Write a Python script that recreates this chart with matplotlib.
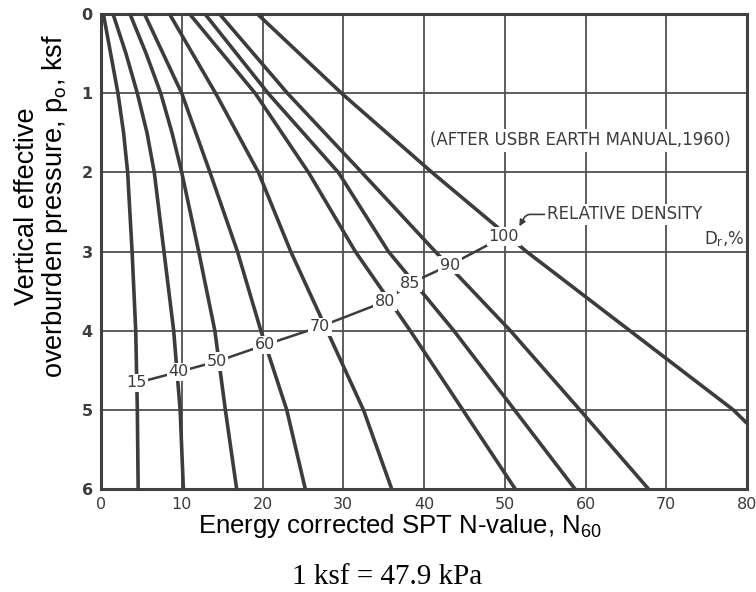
import numpy as np
import matplotlib
matplotlib.use("Agg")
import matplotlib.pyplot as plt

plt.rcParams['mathtext.fontset'] = 'custom'
plt.rcParams['mathtext.rm'] = 'Liberation Sans'
plt.rcParams['mathtext.it'] = 'Liberation Sans:italic'

INK = '#3c3c3c'

# vertical effective pressure (ksf) where the curves were read
pressure = [0, 1, 2, 3, 4, 5, 6]
pressure_fine = [0, 0.5, 1, 1.5, 2, 3, 4, 5, 6]
pressure_100 = [0, 1, 2, 3, 4, 5, 5.17]

# N60
n_15 = [0.3, 1.2, 2.1, 2.8, 3.3, 3.85, 4.3, 4.5, 4.6]
n_40 = [1.5, 3.1, 4.5, 5.7, 6.6, 7.8, 9.0, 9.8, 10.2]
n_50 = [3.6, 5.6, 7.4, 8.8, 10.0, 12.1, 14.1, 15.4, 16.8]
n_60 = [5.4, 10.0, 13.5, 16.9, 19.8, 23.0, 25.3]
n_70 = [8.5, 14.2, 19.5, 23.5, 28.0, 32.5, 36.0]
n_80 = [11.0, 19.1, 25.7, 31.5, 38.3, 44.8, 51.3]
n_85 = [12.9, 20.7, 29.4, 35.6, 43.7, 51.2, 58.7]
n_90 = [14.7, 23.1, 32.3, 41.4, 50.7, 59.3, 67.8]
n_100 = [19.4, 29.8, 41.0, 52.7, 65.5, 78.3, 80.0]

# relative density labels and where they sit on the curves
dr_labels = ['15', '40', '50', '60', '70', '80', '85', '90', '100']
dr_label_n = [4.4, 9.6, 14.3, 20.3, 27.1, 35.2, 38.3, 43.2, 49.9]
dr_label_p = [4.66, 4.52, 4.39, 4.18, 3.95, 3.63, 3.40, 3.17, 2.81]

x_ticks = [0, 10, 20, 30, 40, 50, 60, 70, 80]
y_ticks = [0, 1, 2, 3, 4, 5, 6]

fig = plt.figure(figsize=(7.56, 5.92), dpi=100)
ax = fig.add_axes([0.1336, 0.174, 0.8545, 0.802])

curves = [(n_15, pressure_fine), (n_40, pressure_fine), (n_50, pressure_fine),
          (n_60, pressure), (n_70, pressure), (n_80, pressure),
          (n_85, pressure), (n_90, pressure), (n_100, pressure_100)]
for n, p in curves:
    ax.plot(n, p, color=INK, lw=2.6, solid_capstyle='butt', zorder=3)

# connector through the labels
ax.plot(dr_label_n, dr_label_p, color=INK, lw=1.8, zorder=3)
for lab, n, p in zip(dr_labels, dr_label_n, dr_label_p):
    ax.text(n, p, lab, ha='center', va='center', fontsize=11.5, color=INK,
            zorder=5, bbox=dict(boxstyle='square,pad=0.1', fc='white', ec='none'))

ax.text(59.4, 1.59, '(AFTER USBR EARTH MANUAL,1960)', ha='center', va='center',
        fontsize=12, color=INK, zorder=5,
        bbox=dict(boxstyle='square,pad=0.15', fc='white', ec='none'))
ax.annotate('RELATIVE DENSITY', xy=(51.8, 2.68), xytext=(55.2, 2.53),
            ha='left', va='center', fontsize=12, color=INK, zorder=5,
            bbox=dict(boxstyle='square,pad=0.1', fc='white', ec='none'),
            arrowprops=dict(arrowstyle='-|>', color=INK, lw=1.2,
                            shrinkA=0, shrinkB=0, mutation_scale=9,
                            connectionstyle='angle,angleA=0,angleB=60,rad=4'))
ax.text(79.6, 2.84, r'D$_\mathregular{r}$,%', ha='right', va='center',
        fontsize=12, color=INK, zorder=5, family='DejaVu Sans',
        bbox=dict(boxstyle='square,pad=0.1', fc='white', ec='none'))

ax.set_xlim(0, 80)
ax.set_ylim(6, 0)
ax.set_xticks(x_ticks)
ax.set_yticks(y_ticks)
ax.grid(True, color='#505050', lw=1.3, zorder=1)
ax.tick_params(length=0, labelsize=11.5, colors=INK)
ax.tick_params(axis='x', pad=6)
ax.tick_params(axis='y', pad=6)
for lab in ax.get_yticklabels():
    lab.set_fontweight('bold')
for s in ax.spines.values():
    s.set_color('#404040')
    s.set_linewidth(2.2)

fig.text(0.056, 0.652, 'Vertical effective\noverburden pressure, p$_\\mathregular{o}$, ksf',
         rotation=90, ha='center', va='center', multialignment='center',
         family='Liberation Sans', fontsize=19.5, linespacing=1.0)
fig.text(0.529, 0.111, 'Energy corrected SPT N-value, N$_\\mathregular{60}$',
         ha='center', va='center', family='Liberation Sans', fontsize=18.5)
fig.text(0.512, 0.026, '1 ksf = 47.9 kPa', ha='center', va='center',
         family='Liberation Serif', fontsize=21)

fig.savefig('out.png', dpi=100)
